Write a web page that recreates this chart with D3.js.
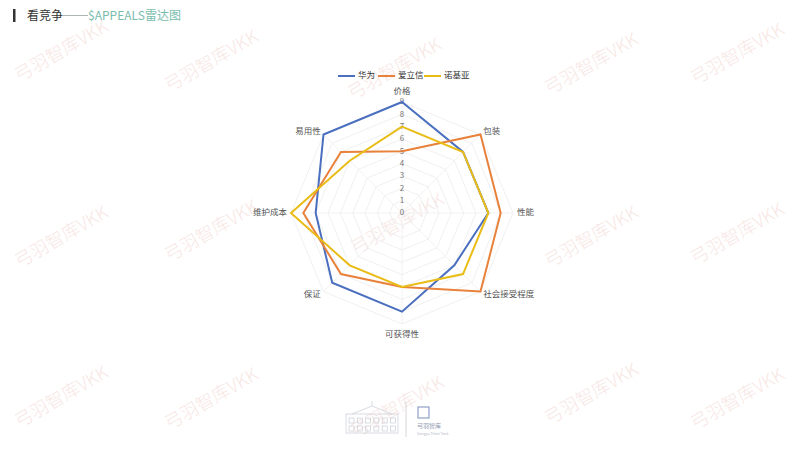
<!DOCTYPE html>
<html><head><meta charset="utf-8">
<script src="https://cdn.jsdelivr.net/npm/d3@7"></script>
<style>body{margin:0;background:#fff;}svg{display:block;font-family:"Noto Sans CJK SC","Noto Sans",sans-serif;}</style>
</head><body><svg id="c" width="800" height="450"></svg>
<script>
const indicators = ["价格","包装","性能","社会接受程度","可获得性","保证","维护成本","易用性"];
const seriesNames = ["华为","爱立信","诺基亚"];
const huawei = [9,7,7,6,8,8,7,9];
const ericsson = [5,9,8,9,6,7,8,7];
const nokia = [7,7,7,7,6,6,9,6];
const tickValues = [0,1,2,3,4,5,6,7,8,9];
const colors = ["#4a6fbf","#e8813a","#e9bd16"];
const maxValue = 9;

const svg = d3.select("#c");
const cx = 402, cy = 213, R = 111;

// watermarks
const wmPos = [[62,52],[212,62],[395,70],[592,65],[738,55],[62,238],[212,232],[398,225],[592,238],[738,235],[62,398],[212,400],[398,408],[592,395],[738,400]];
const wm = svg.append("g");
wmPos.forEach(p=>{
  wm.append("text").attr("transform",`translate(${p[0]},${p[1]}) rotate(-30)`)
    .attr("text-anchor","middle").attr("dominant-baseline","middle")
    .attr("font-size",18).attr("font-weight",300).attr("fill","#f2d3cd").attr("opacity",0.55).text("弓羽智库VKK");
});

// header
svg.append("rect").attr("x",13).attr("y",9).attr("width",2.5).attr("height",13).attr("fill","#333");
svg.append("text").attr("x",27).attr("y",20).attr("font-size",12).attr("fill","#333").text("看竞争");
svg.append("line").attr("x1",63).attr("x2",88).attr("y1",15.5).attr("y2",15.5).attr("stroke","#9aa5a3").attr("stroke-width",0.8);
svg.append("text").attr("x",88).attr("y",20).attr("font-size",12).attr("fill","#79bcad").text("$APPEALS雷达图");

const r = d3.scaleLinear().domain([0,maxValue]).range([0,R]);
const n = indicators.length;
const ang = d3.scalePoint().domain(d3.range(n)).range([0, 2*Math.PI*(n-1)/n]);
const pt = (i,v)=>[cx + r(v)*Math.sin(ang(i)), cy - r(v)*Math.cos(ang(i))];

// grid
const g = svg.append("g");
tickValues.slice(1).forEach(t=>{
  g.append("path").attr("d", d3.line()(d3.range(n).map(i=>pt(i,t)))+"Z")
    .attr("fill","none").attr("stroke","#ececec").attr("stroke-width",0.8);
});
d3.range(n).forEach(i=>{
  const p = pt(i,maxValue);
  g.append("line").attr("x1",cx).attr("y1",cy).attr("x2",p[0]).attr("y2",p[1])
    .attr("stroke","#efefef").attr("stroke-width",0.8);
});

// tick labels
tickValues.forEach(t=>{
  svg.append("text").attr("x",cx).attr("y",cy - r(t)).attr("text-anchor","middle")
    .attr("dominant-baseline","middle").attr("font-size",8).attr("fill","#777").text(t);
});

// axis names
indicators.forEach((name,i)=>{
  const a = ang(i), s = Math.sin(a), c = Math.cos(a);
  let x, y, anchor = "middle", base = "middle";
  if (Math.abs(s) < 0.1) {
    x = cx; y = c > 0 ? cy - R - 8 : cy + R + 13; base = "auto";
  } else {
    const rr = R + 4;
    x = cx + rr*s; y = cy - rr*c; anchor = s > 0 ? "start" : "end";
  }
  svg.append("text").attr("x",x).attr("y",y).attr("text-anchor",anchor)
    .attr("dominant-baseline",base).attr("font-size",8.5).attr("fill","#555").text(name);
});

// series
const data = [huawei, ericsson, nokia];
data.forEach((vals,k)=>{
  svg.append("path").attr("d", d3.line()(vals.map((v,i)=>pt(i,v)))+"Z")
    .attr("fill","none").attr("stroke",colors[k]).attr("stroke-width",2).attr("stroke-linejoin","miter");
});

// legend
const legX = [338, 378, 424];
seriesNames.forEach((s,k)=>{
  const lg = svg.append("g").attr("transform",`translate(${legX[k]},76)`);
  lg.append("line").attr("x1",0).attr("x2",17).attr("y1",0).attr("y2",0).attr("stroke",colors[k]).attr("stroke-width",2);
  lg.append("text").attr("x",20).attr("y",0).attr("dominant-baseline","middle").attr("font-size",8.5).attr("fill","#333").text(s);
});

// footer logo
const lo = svg.append("g").attr("stroke","#c9ccd6").attr("fill","none").attr("stroke-width",0.7);
lo.append("rect").attr("x",346).attr("y",414).attr("width",52).attr("height",19);
lo.append("path").attr("d","M352,414 L372,406 L392,414");
lo.append("line").attr("x1",372).attr("y1",401).attr("x2",372).attr("y2",406);
for(let i=0;i<6;i++){ lo.append("rect").attr("x",349+i*8.3).attr("y",418).attr("width",5).attr("height",5);
  lo.append("rect").attr("x",349+i*8.3).attr("y",426).attr("width",5).attr("height",5);}
svg.append("line").attr("x1",406).attr("x2",406).attr("y1",402).attr("y2",437).attr("stroke","#ccc").attr("stroke-width",0.8);
svg.append("rect").attr("x",418).attr("y",407).attr("width",11).attr("height",11).attr("fill","none").attr("stroke","#8fa0c8").attr("stroke-width",1.2);
svg.append("text").attr("x",417).attr("y",428).attr("font-size",6).attr("fill","#8f98b0").text("弓羽智库");
svg.append("text").attr("x",417).attr("y",435).attr("font-size",3.5).attr("fill","#b0b5c4").text("Gongyu Think Tank");
</script></body></html>
